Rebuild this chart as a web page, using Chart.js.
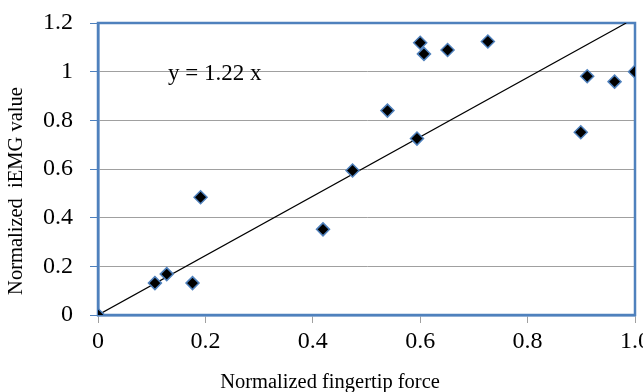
<!DOCTYPE html>
<html>
<head>
<meta charset="utf-8">
<script src="https://cdn.jsdelivr.net/npm/chart.js@4"></script>
<style>
  html, body { margin: 0; padding: 0; background: #fff; }
  #wrap { width: 643px; height: 392px; }
</style>
</head>
<body>
<div id="wrap"><canvas id="chart" width="643" height="392"></canvas></div>
<script>
// fingertip force vs iEMG, both normalized
const forceX = [0, 0.106, 0.128, 0.176, 0.191, 0.419, 0.474, 0.539, 0.594, 0.600, 0.607, 0.651, 0.726, 0.899, 0.911, 0.962, 1.0];
const iemgY = [0, 0.131, 0.168, 0.131, 0.484, 0.352, 0.594, 0.840, 0.725, 1.119, 1.073, 1.089, 1.124, 0.751, 0.981, 0.959, 1.0];
const slope = 1.22;
const xTicks = [0, 0.2, 0.4, 0.6, 0.8, 1.0];
const yTicks = [0, 0.2, 0.4, 0.6, 0.8, 1, 1.2];
const xTitle = 'Normalized fingertip force';
const yTitle = 'Normalized  iEMG value';

const blue = '#4f81bd';
const serif = "'Liberation Serif', 'Times New Roman', serif";

const points = forceX.map((x, i) => ({ x: x, y: iemgY[i] }));
const fitEnd = 1.2 / slope;
const fitLine = [{ x: 0, y: 0 }, { x: fitEnd, y: slope * fitEnd }];

// frame around plot, axis titles, equation label
const extras = {
    id: 'extras',
    beforeDatasetsDraw(chart) {
        const { ctx, chartArea: a } = chart;
        ctx.save();
        ctx.strokeStyle = blue;
        ctx.lineWidth = 2.5;
        ctx.strokeRect(a.left, a.top, a.right - a.left, a.bottom - a.top);
        ctx.restore();
    },
    afterDraw(chart) {
        const { ctx } = chart;
        ctx.save();
        ctx.fillStyle = '#000';
        ctx.textBaseline = 'alphabetic';
        ctx.font = '23px ' + serif;
        ctx.textAlign = 'left';
        ctx.fillText('y = 1.22 x', 168, 80);

        ctx.font = '20.5px ' + serif;
        ctx.textAlign = 'center';
        ctx.textBaseline = 'middle';
        ctx.fillText(xTitle, 330, 383);
        ctx.translate(17, 191);
        ctx.rotate(-Math.PI / 2);
        ctx.fillText(yTitle, 0, 0);
        ctx.restore();
    }
};

new Chart(document.getElementById('chart'), {
    type: 'scatter',
    data: {
        datasets: [
            {
                data: points,
                pointStyle: 'rectRot',
                pointRadius: 6.5,
                backgroundColor: '#000',
                borderColor: blue,
                borderWidth: 1.5
            },
            {
                data: fitLine,
                showLine: true,
                pointRadius: 0,
                borderColor: '#000',
                borderWidth: 1.2
            }
        ]
    },
    options: {
        responsive: false,
        animation: false,
        layout: { padding: { top: 23, right: 2, bottom: 0, left: 0 } },
        plugins: { legend: { display: false }, tooltip: { enabled: false } },
        scales: {
            x: {
                type: 'linear',
                min: 0, max: 1,
                afterBuildTicks: s => { s.ticks = xTicks.map(v => ({ value: v })); },
                afterFit: s => { s.height = 77; s.paddingRight = 0; s.paddingLeft = 0; },
                ticks: {
                    color: '#000',
                    font: { family: serif, size: 24 },
                    padding: 4,
                    maxRotation: 0,
                    callback: v => v === 0 ? '0' : v.toFixed(1)
                },
                grid: { drawOnChartArea: false, tickLength: 8, tickColor: '#a0a0a0' },
                border: { color: blue, width: 2.5 }
            },
            y: {
                min: 0, max: 1.2,
                afterBuildTicks: s => { s.ticks = yTicks.map(v => ({ value: v })); },
                afterFit: s => { s.width = 98; s.paddingTop = 0; s.paddingBottom = 0; },
                ticks: {
                    color: '#000',
                    font: { family: serif, size: 24 },
                    padding: 17,
                    callback: v => String(Math.round(v * 10) / 10)
                },
                grid: { color: '#a0a0a0', lineWidth: 1, tickLength: 8, tickColor: blue },
                border: { color: blue, width: 2.5 }
            }
        }
    },
    plugins: [extras]
});
</script>
</body>
</html>
